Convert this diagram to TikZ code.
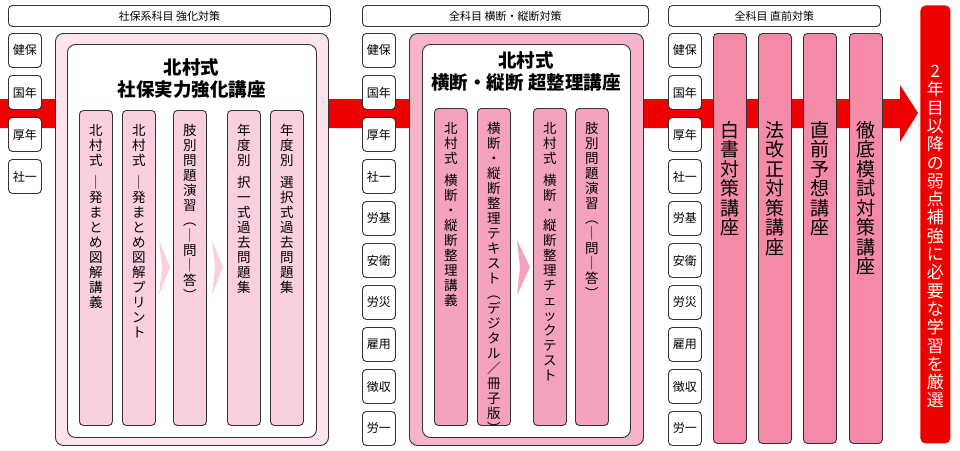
\documentclass[tikz,border=0pt]{standalone}
\usepackage{fontspec}
\setmainfont{Noto Sans CJK JP}
\def\vtend{VTEND}
\def\G{GAP}
\def\vt#1{\vtA#1\vtend}
\def\vtA#1{\ifx#1\vtend\else\ifx#1\G\rule{0pt}{0pt}\\[-8pt]\else#1\\\fi\expandafter\vtA\fi}
\def\vtm#1{\expandafter\vt\expandafter{#1}}
\definecolor{bd}{HTML}{333333}
\definecolor{pk1}{HTML}{FDE3EC}
\definecolor{pk1c}{HTML}{FBD0DE}
\definecolor{pk2}{HTML}{F7B3C8}
\definecolor{pk2c}{HTML}{F5A3BD}
\definecolor{pk3}{HTML}{F48AA8}
\definecolor{rd}{HTML}{EE0000}
\tikzset{
 box/.style={draw=bd,line width=0.9pt,rounded corners=4pt,anchor=north west,inner sep=0pt},
 hdr/.style={box,fill=white,minimum height=21pt,font=\fontsize{11}{12}\selectfont},
 subj/.style={box,fill=white,minimum width=33pt,minimum height=34pt,font=\fontsize{12}{12}\selectfont},
 col/.style={box,minimum width=33pt,minimum height=#1},
 vtxt/.style={anchor=north,align=center,inner sep=0pt,font=\fontsize{13.5}{15}\selectfont},
 btxt/.style={anchor=north,align=center,inner sep=0pt,font=\fontsize{19}{19.5}\selectfont},
 ttl/.style={align=center,inner sep=0pt,font=\bfseries\fontsize{18.5}{22}\selectfont},
}
\begin{document}
\begin{tikzpicture}[x=1pt,y=-1pt]
\useasboundingbox (0,0) rectangle (960,450);
% red band with arrow
\fill[rd] (0,99) -- (900,99) -- (900,85) -- (918,113) -- (900,142) -- (900,128) -- (0,128) -- cycle;
% headers
\node[hdr,minimum width=322pt] (h1) at (8,5) {社保系科目 強化対策};
\node[hdr,minimum width=286pt] (h2) at (362,5) {全科目 横断・縦断対策};
\node[hdr,minimum width=212pt] (h3) at (668,5) {全科目 直前対策};
% subject boxes
\foreach \s [count=\i from 0] in {健保,国年,厚年,社一}
  \node[subj] (a\i) at (8,33+42*\i) {\s};
\foreach \s [count=\i from 0] in {健保,国年,厚年,社一,労基,安衛,労災,雇用,徴収,労一}{
  \node[subj] (b\i) at (362,33+42*\i) {\s};
  \node[subj] (c\i) at (668,33+42*\i) {\s};}
% section 1
\node[box,fill=pk1,minimum width=273pt,minimum height=412pt,rounded corners=8pt] (s1) at (55,33) {};
\node[box,fill=white,minimum width=249pt,minimum height=393pt,rounded corners=8pt] (s1i) at (67,44) {};
\node[ttl] (t1) at (191.5,78) {北村式\\社保実力強化講座};
\fill[pk1c] (159,240) -- (170,267) -- (159,295) -- (162,267) -- cycle;
\fill[pk1c] (212,240) -- (223,267) -- (212,295) -- (215,267) -- cycle;
\foreach \x/\t [count=\i] in {79/{北村式\G ｜発まとめ図解講義},122/{北村式\G ｜発まとめ図解プリント},173/{肢別問題演習︵｜問｜答︶},227/{年度別\G 択一式過去問題集},270/{年度別\G 選択式過去問題集}}{
  \node[col=315pt,fill=pk1c] (p\i) at (\x,110) {};
  \node[vtxt] (pt\i) at ([yshift=-14pt]p\i.north) {\vtm{\t}};}
% section 2
\node[box,fill=pk2,minimum width=234pt,minimum height=412pt,rounded corners=8pt] (s2) at (409,33) {};
\node[box,fill=white,minimum width=208pt,minimum height=393pt,rounded corners=8pt] (s2i) at (422,44) {};
\node[ttl] (t2) at (526,71) {北村式\\横断・縦断 超整理講座};
\fill[pk2c] (517,240) -- (530,267) -- (517,295) -- (520,267) -- cycle;
\foreach \x/\t [count=\i] in {434/{北村式\G 横断・縦断整理講義},477/{横断・縦断整理テキスト︵デジタル／冊子版︶},533/{北村式\G 横断・縦断整理チェックテスト},575/{肢別問題演習︵｜問｜答︶}}{
  \node[col=317pt,fill=pk2c] (q\i) at (\x,108) {};
  \node[vtxt] (qt\i) at ([yshift=-14pt]q\i.north) {\vtm{\t}};}
% section 3
\foreach \x/\t [count=\i] in {713/{白書対策講座},758/{法改正対策講座},803/{直前予想講座},849/{徹底模試対策講座}}{
  \node[col=410pt,fill=pk3] (r\i) at (\x,33) {};
  \node[btxt] (rt\i) at ([yshift=-88pt]r\i.north) {\vtm{\t}};}
% final red box
\node[box,draw=none,fill=rd,minimum width=30pt,minimum height=438pt,rounded corners=5pt] (fin) at (920,5) {};
\node[anchor=north,align=center,inner sep=0pt,text=white,font=\fontsize{17}{18.3}\selectfont] (fint) at ([yshift=-60pt]fin.north) {\vt{2年目以降の弱点補強に必要な学習を厳選}};
\end{tikzpicture}
\end{document}
